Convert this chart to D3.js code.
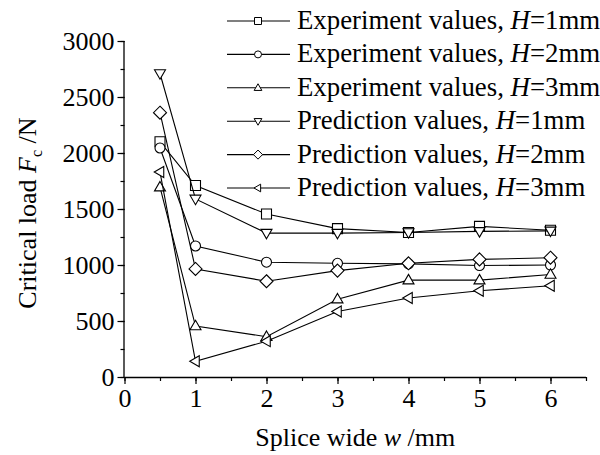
<!DOCTYPE html>
<html>
<head>
<meta charset="utf-8">
<script src="https://cdn.jsdelivr.net/npm/d3@7"></script>
<style>
  html, body { margin: 0; padding: 0; background: #fff; }
  svg { display: block; }
  svg text { font-family: "Liberation Serif", "DejaVu Serif", serif; fill: #000; }
</style>
</head>
<body>
<svg id="chart" width="600" height="455"></svg>
<script>
// Splice width (mm)
const widths = [0.5, 1, 2, 3, 4, 5, 6];

// Critical load Fc (N)
const expH1  = [2100, 1710, 1455, 1325, 1290, 1345, 1310];
const expH2  = [2045, 1170, 1025, 1015, 1010,  995, 1000];
const expH3  = [1695,  455,  360,  695,  865,  865,  915];
const predH1 = [2710, 1590, 1285, 1285, 1290, 1300, 1305];
const predH2 = [2360,  965,  855,  950, 1015, 1050, 1065];
const predH3 = [1830,  140,  320,  585,  705,  770,  815];

const seriesNames = [
  ["Experiment values, ", "H", "=1mm"],
  ["Experiment values, ", "H", "=2mm"],
  ["Experiment values, ", "H", "=3mm"],
  ["Prediction values, ", "H", "=1mm"],
  ["Prediction values, ", "H", "=2mm"],
  ["Prediction values, ", "H", "=3mm"]
];
const seriesValues = [expH1, expH2, expH3, predH1, predH2, predH3];
const markerKinds = ["square", "circle", "triUp", "triDown", "diamond", "triLeft"];

const xTicks = [0, 1, 2, 3, 4, 5, 6];
const yTicks = [0, 500, 1000, 1500, 2000, 2500, 3000];

const svg = d3.select("#chart");
const FONT = 26;
const SERIF = '"Liberation Serif","DejaVu Serif",serif';

const x = d3.scaleLinear().domain([0, 6.5]).range([124.5, 586]);
const y = d3.scaleLinear().domain([0, 3000]).range([377, 41]);

// marker path generator centred on 0,0
function markerPath(kind, r) {
  switch (kind) {
    case "square":  return `M${-r},${-r}H${r}V${r}H${-r}Z`;
    case "circle":  return `M${r},0A${r},${r} 0 1,1 ${-r},0A${r},${r} 0 1,1 ${r},0Z`;
    case "triUp":   return `M0,${-r*1.15}L${r*1.1},${r*0.75}L${-r*1.1},${r*0.75}Z`;
    case "triDown": return `M0,${r*1.15}L${r*1.1},${-r*0.75}L${-r*1.1},${-r*0.75}Z`;
    case "diamond": return `M0,${-r*1.3}L${r*1.3},0L0,${r*1.3}L${-r*1.3},0Z`;
    case "triLeft": return `M${-r*1.15},0L${r*0.75},${-r*1.1}L${r*0.75},${r*1.1}Z`;
  }
}

// axes: minor ticks first, then major ticks with labels
const g = svg.append("g");
const xMinor = d3.range(0, 6.51, 0.5);
const yMinor = d3.range(0, 3001, 250);

g.append("g").attr("transform", `translate(0,${y(0)})`)
  .call(d3.axisBottom(x).tickValues(xMinor).tickSize(4).tickFormat(""))
  .call(a => a.select(".domain").remove());
g.append("g").attr("transform", `translate(${x(0)},0)`)
  .call(d3.axisLeft(y).tickValues(yMinor).tickSize(4).tickFormat(""))
  .call(a => a.select(".domain").remove());

const xAxis = g.append("g").attr("transform", `translate(0,${y(0)})`)
  .call(d3.axisBottom(x).tickValues(xTicks).tickSize(7).tickPadding(5).tickFormat(d3.format("d")));
const yAxis = g.append("g").attr("transform", `translate(${x(0)},0)`)
  .call(d3.axisLeft(y).tickValues(yTicks).tickSize(7).tickPadding(3).tickFormat(d3.format("d")));

g.selectAll("g").attr("font-family", SERIF).attr("font-size", FONT);
[xAxis, yAxis].forEach(a => {
  a.select(".domain").attr("stroke", "#000").attr("stroke-width", 1.3);
});
g.selectAll(".tick line").attr("stroke", "#000").attr("stroke-width", 1.2);
xAxis.select(".domain").attr("d", `M${x(0)},0.5H${x(6.5)}`);
yAxis.select(".domain").attr("d", `M-0.5,${y(0)}V${y(3000)}`);

// series lines and markers
const line = d3.line().x((d, i) => x(widths[i])).y(d => y(d));
seriesValues.forEach((vals, si) => {
  const sg = svg.append("g");
  sg.append("path").attr("d", line(vals))
    .attr("fill", "none").attr("stroke", "#000").attr("stroke-width", 1.1);
  sg.selectAll("path.m").data(vals).join("path").attr("class", "m")
    .attr("transform", (d, i) => `translate(${x(widths[i])},${y(d)})`)
    .attr("d", markerPath(markerKinds[si], 5))
    .attr("fill", "#fff").attr("stroke", "#000").attr("stroke-width", 1.1);
});

// legend
const leg = svg.append("g");
seriesNames.forEach((nm, i) => {
  const ly = 21 + i * 33.4;
  leg.append("line").attr("x1", 227).attr("x2", 290).attr("y1", ly).attr("y2", ly)
    .attr("stroke", "#000").attr("stroke-width", 1.1);
  leg.append("path").attr("transform", `translate(258,${ly})`)
    .attr("d", markerPath(markerKinds[i], 3.5))
    .attr("fill", "#fff").attr("stroke", "#000").attr("stroke-width", 1);
  const t = leg.append("text").attr("x", 297).attr("y", ly + 8)
    .attr("font-family", SERIF).attr("font-size", 26.8);
  t.append("tspan").text(nm[0]);
  t.append("tspan").attr("font-style", "italic").text(nm[1]);
  t.append("tspan").text(nm[2]);
});

// axis titles
const yl = svg.append("text")
  .attr("transform", `translate(36,${(y(0) + y(3000)) / 2 + 4}) rotate(-90)`)
  .attr("text-anchor", "middle").attr("font-family", SERIF).attr("font-size", FONT);
yl.append("tspan").text("Critical load ");
yl.append("tspan").attr("font-style", "italic").text("F");
yl.append("tspan").attr("dy", 6).attr("font-size", 16).text("c");
yl.append("tspan").attr("dy", -6).text(" /N");

const xl = svg.append("text")
  .attr("x", (x(0) + x(6.5)) / 2).attr("y", 446)
  .attr("text-anchor", "middle").attr("font-family", SERIF).attr("font-size", FONT);
xl.append("tspan").text("Splice wide ");
xl.append("tspan").attr("font-style", "italic").text("w");
xl.append("tspan").text(" /mm");
</script>
</body>
</html>
